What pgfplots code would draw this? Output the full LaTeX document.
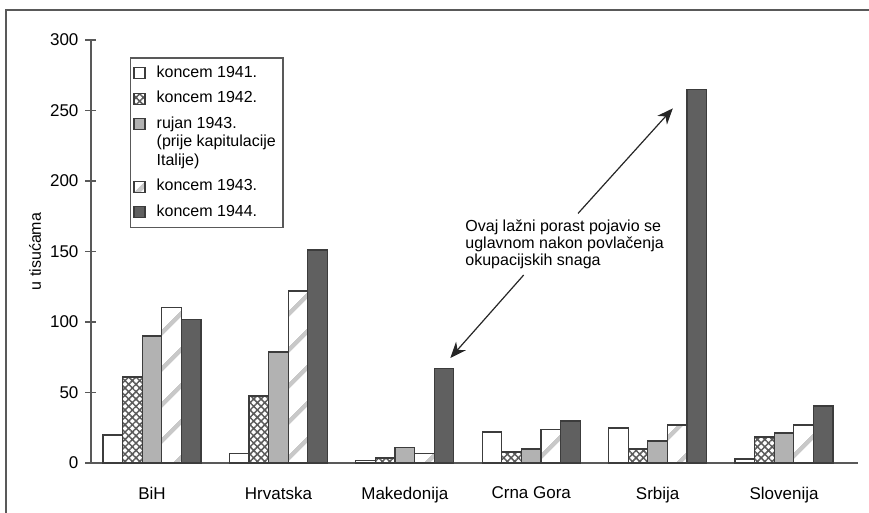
\documentclass[border=0pt]{standalone}
\usepackage{pgfplots}
\pgfplotsset{compat=1.18}
\usepackage{fontspec}
\setmainfont{Liberation Sans}
\usetikzlibrary{patterns.meta,arrows.meta}

\definecolor{axgray}{HTML}{595959}
\definecolor{bardark}{HTML}{606060}
\definecolor{barmid}{HTML}{B2B2B2}
\definecolor{edge}{HTML}{3C3C3C}
\definecolor{hatchc}{HTML}{5A5A5A}
\definecolor{stripec}{HTML}{C8C8C8}

\pgfplotsset{
  squarelegend/.style={legend image code/.code={\draw[##1, line width=0.6pt] (0pt,-2.75pt) rectangle (5.5pt,2.75pt);\path[draw=none,fill=none,pattern=none] (9pt,0pt) coordinate (legendpad);}},
  raisedlegend/.style={legend image code/.code={\draw[##1, line width=0.6pt] (0pt,6.45pt) rectangle (5.5pt,11.95pt);\path[draw=none,fill=none,pattern=none] (9pt,0pt) coordinate (legendpad);}},
}

\begin{document}
\begin{tikzpicture}
\useasboundingbox (0,0) rectangle (434.5pt,256.5pt);
\draw[axgray, line width=1pt] (3pt,0) -- (3pt,251.5pt) -- (434.5pt,251.5pt);
\begin{axis}[
  at={(45.5pt,25pt)}, anchor=south west,
  scale only axis, width=383.5pt, height=211.5pt,
  xmin=-0.483, xmax=5.585, ymin=0, ymax=300,
  axis x line=bottom, axis y line=left,
  axis line style={-, draw=axgray, line width=0.8pt},
  ytick={0,50,...,300},
  xtick={0,...,5},
  xticklabels={BiH,Hrvatska,Makedonija,Crna Gora,Srbija,Slovenija},
  major tick length=5.5pt, tick align=center,
  ytick style={draw=axgray, line width=0.8pt},
  xtick style={draw=none},
  ticklabel style={font=\fontsize{8.5}{10}\selectfont},
  xticklabel style={yshift=-3pt},
  /pgf/number format/assume math mode=true,
  ylabel={u tisućama},
  ylabel style={at={(axis description cs:-0.073,0.5)}, anchor=center, font=\fontsize{8}{9}\selectfont},
  ybar, bar width=0.155,
  squarelegend,
  legend style={at={(axis description cs:0.0505,0.9598)}, anchor=north west,
    draw=axgray, line width=0.75pt, font=\fontsize{8}{9.2}\selectfont,
    cells={anchor=west, align=left}, row sep=1.5pt, inner xsep=1.5pt, inner ysep=2pt},
  clip=false,
]
\addplot[fill=white, draw=edge, line width=0.6pt, bar shift=-0.31]
  coordinates {(0,19.8) (1,7) (2,1.5) (3,22) (4,24.8) (5,2.8)};
\addlegendentry{koncem 1941.}
\addplot[fill=white, draw=edge, line width=0.6pt, bar shift=-0.155,
  pattern={Hatch[angle=45,distance=2.6pt,line width=0.75pt]}, pattern color=hatchc]
  coordinates {(0,61) (1,47.5) (2,3.5) (3,7.8) (4,9.9) (5,18.4)};
\addlegendentry{koncem 1942.}
\addplot[fill=barmid, draw=edge, line width=0.6pt, bar shift=0, raisedlegend]
  coordinates {(0,90) (1,78.7) (2,11) (3,9.9) (4,15.6) (5,21.3)};
\addlegendentry{rujan 1943.\\(prije kapitulacije\\Italije)}
\addplot[fill=white, draw=edge, line width=0.6pt, bar shift=0.155,
  postaction={pattern={Lines[angle=45,distance=13pt,line width=2.3pt]}, pattern color=stripec}]
  coordinates {(0,110) (1,122) (2,7) (3,24) (4,26.9) (5,26.9)};
\addlegendentry{koncem 1943.}
\addplot[fill=bardark, draw=edge, line width=0.6pt, bar shift=0.31]
  coordinates {(0,102) (1,151) (2,67.3) (3,29.8) (4,265) (5,40.4)};
\addlegendentry{koncem 1944.}

\node[anchor=north west, align=left, font=\fontsize{8}{8.3}\selectfont, inner sep=0pt]
  at (axis cs:2.476,172.5) {Ovaj lažni porast pojavio se\\uglavnom nakon povlačenja\\okupacijskih snaga};
\draw[-{Stealth[length=8pt,width=6.5pt]}, line width=0.6pt, black!85] (axis cs:3.37,177) -- (axis cs:4.12,251.5);
\draw[-{Stealth[length=8pt,width=6.5pt]}, line width=0.6pt, black!85] (axis cs:2.94,133.3) -- (axis cs:2.36,74.5);
\end{axis}
\end{tikzpicture}
\end{document}
